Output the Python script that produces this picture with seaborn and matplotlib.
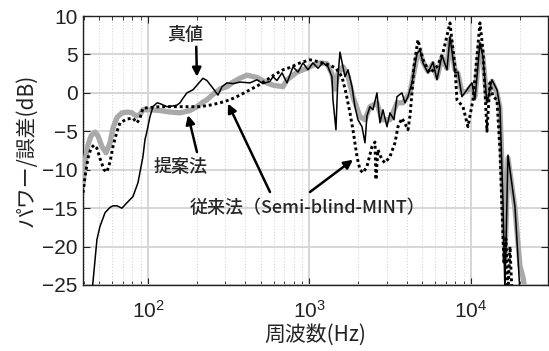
import numpy as np
import pandas as pd
import matplotlib
matplotlib.use("Agg")
import matplotlib.pyplot as plt
import seaborn as sns

# 真値 (true response)
true_freq = [45.0, 48.3, 50.4, 54.2, 58.2, 60.7, 64.3, 69.0, 74.1, 80.7, 86.7, 93.1,
             95.8, 98.6, 102.9, 107.4, 113.7, 118.7, 131.1, 142.8, 151.2, 157.8, 164.7,
             174.4, 190.0, 201.1, 219.1, 231.9, 252.6, 271.3, 287.2, 308.4, 336.0,
             371.2, 428.2, 473.1, 515.4, 569.5, 594.3, 629.4, 676, 726, 791, 849, 912,
             979, 1051, 1129, 1212, 1302, 1378, 1398, 1459, 1501, 1545, 1612, 1659,
             1732, 1834, 1913, 1997, 2114, 2207, 2270, 2369, 2473, 2618, 2732, 2852,
             3020, 3151, 3337, 3482, 3740, 3903, 4073, 4313, 4630, 4834, 5045, 5416,
             5818, 6159, 6613, 7102, 7413, 7961, 8309, 8796, 9446, 10143, 10587,
             11370, 11866, 12562, 13490, 14488, 15118, 15782, 16235, 16949, 18727,
             19543, 20109]
true_db = [-26, -19.1, -17.4, -15.6, -14.9, -14.7, -14.7, -15.0, -14.3, -13.5, -11.7, -8.3,
           -6.1, -5.0, -3.1, -1.8, -1.3, -1.4, -1.8, -1.7, -1.6, -1.3, -0.7,
           0.0, 0.4, 1.0, 1.9, 1.6, 0.6, -0.3, 0.8, 1.3, 1.2,
           1.4, 1.3, 1.7, 1.2, 1.5, 2.1, 1.6, 2.6, 1.3, 3.4, 2.7, 3.9,
           3.0, 3.9, 3.2, 3.9, 3.4, 2.1, -0.9, -4.8, 2.1, 5.3, 3.4, 2.1,
           3.0, 0.8, -1.8, -3.5, -4.4, -6.5, -3.0, -1.8, -2.2, 0.0, -3.9, -2.2,
           -4.4, -2.6, -3.5, -0.5, 0.0, -1.3, -0.5, 1.3, 5.1, 5.6, 3.9, 2.6,
           4.0, 1.7, 4.9, 3.0, 7.3, 2.6, 2.7, -0.5, 0.4, 1.3, -0.9,
           6.5, 4.7, -1.3, 1.7, 0.4, -1.8, -14.0, -26.0, -8.1, -14.8,
           -21.3, -26.0]

# 提案法 (proposed method)
prop_freq = [39.6, 40.7, 42.5, 44.4, 47.0, 49.0, 51.9, 55.0, 58.2, 60.7, 64.3, 69.0,
             75.2, 79.6, 84.3, 89.2, 93.1, 102.9, 118.7, 136.8, 157.8, 182.0, 201.1,
             219.1, 231.9, 252.6, 279.1, 308.4, 336.0, 371.2, 410.2, 473.1, 545.6,
             594.3, 685.6, 725.9, 837.1, 964.9, 1051, 1161, 1283, 1378, 1438, 1501,
             1612, 1732, 1859, 2055, 2207, 2369, 2618, 2811, 3151, 3482, 3793, 4192,
             4630, 4834, 5045, 5416, 5818, 6159, 6613, 7102, 7413, 7961, 8309, 8796,
             9446, 10143, 10587, 11370, 11866, 12562, 13490, 14488, 15118, 15782,
             16235, 16949, 18727, 20109, 20989, 21601]
prop_db = [-12.0, -9.0, -6.8, -5.6, -5.1, -5.6, -7.0, -7.8, -6.5, -4.6, -3.2, -2.6,
           -2.5, -2.6, -3.0, -2.8, -2.2, -2.2, -2.3, -2.5, -2.6, -2.3, -1.8,
           -1.2, -0.9, -0.2, 0.5, 0.8, 1.4, 1.9, 2.3, 2.0, 1.3,
           1.0, 0.8, 1.7, 2.7, 3.2, 3.6, 3.9, 3.8, 2.5, 0.5, 2.5,
           3.4, 2.2, -0.5, -3.1, -3.5, -1.8, -1.3, -3.5, -3.5, -1.3, -1.3, 0.0,
           4.7, 5.4, 4.0, 2.8, 3.8, 2.0, 4.6, 3.2, 7.0, 3.0, 2.5, 0.0,
           0.2, 1.0, -0.5, 6.3, 4.5, -1.0, 1.5, 0.0, -2.0, -13.0,
           -22.0, -8.5, -15.0, -22.5, -24.0, -25.5]

# 従来法 (Semi-blind-MINT)
conv_freq = [39.6, 40.7, 42.5, 44.4, 46.3, 48.3, 50.4, 53.4, 55.7, 58.2, 60.7, 64.3,
             67.1, 74.1, 80.7, 85.5, 89.2, 93.1, 102.9, 118.7, 146.9, 182.0, 209.9,
             242.0, 279.1, 322.0, 371.2, 428.2, 493.8, 545.6, 611.6, 685.6, 757.6,
             873.7, 1007, 1161, 1340, 1459, 1589, 1683, 1782, 1859, 1969, 2055, 2145,
             2270, 2438, 2545, 2581, 2655, 2811, 2934, 3151, 3385, 3532, 3740, 3903,
             4073, 4192, 4313, 4437, 4697, 5045, 5573, 6159, 6709, 7413, 7961, 8190,
             8924, 9581, 10290, 11370, 11866, 12562, 13113, 13685, 14488, 15118,
             15560, 16006, 16470, 16949, 17440, 17945]
conv_db = [-13.0, -11.0, -8.5, -7.2, -6.8, -7.2, -8.5, -10.0, -10.3, -9.0, -7.0, -5.0,
           -3.9, -3.4, -3.3, -3.9, -3.3, -2.0, -1.9, -1.8, -1.8, -1.8, -1.8,
           -1.6, -1.3, -0.9, -0.3, 0.4, 1.1, 1.7, 2.4, 3.0, 3.3,
           3.9, 4.3, 4.0, 3.6, 3.2, 2.1, 0.0, -2.6, -4.8, -8.3, -10.0, -10.4,
           -9.6, -7.0, -6.4, -11.3, -7.4, -8.7, -9.1, -8.3, -6.5, -4.4, -3.3, -4.0,
           -4.8, -3.0, 0.0, 3.5, 6.9, 4.3, 2.6, 3.4, 5.2, 9.1, 3.4, -0.9,
           -1.8, -4.4, -0.9, 9.1, 5.6, -5.0, 1.3, -0.5, -0.9, -7.4,
           -15.0, -22.0, -19.0, -26.0, -20.0, -26.0]

y_ticks = [10, 5, 0, -5, -10, -15, -20, -25]

sns.set_theme(style="ticks")
plt.rcParams["font.family"] = ["Liberation Sans", "Noto Sans CJK JP", "DejaVu Sans"]
plt.rcParams["axes.unicode_minus"] = True
plt.rcParams["mathtext.fontset"] = "custom"
plt.rcParams["mathtext.rm"] = "Liberation Sans"
plt.rcParams["mathtext.it"] = "Liberation Sans:italic"
plt.rcParams["mathtext.bf"] = "Liberation Sans:bold"
JP = ["Noto Sans CJK JP", "DejaVu Sans"]

fig = plt.figure(figsize=(5.49, 3.51), dpi=100)
ax = fig.add_axes([83 / 549, 1 - 285 / 351, 465 / 549, 269 / 351])

df_prop = pd.DataFrame({"f": prop_freq, "db": prop_db})
df_conv = pd.DataFrame({"f": conv_freq, "db": conv_db})
df_true = pd.DataFrame({"f": true_freq, "db": true_db})

sns.lineplot(data=df_prop, x="f", y="db", ax=ax, color="#a9a9a9", linewidth=3.8,
             estimator=None, sort=False, zorder=3)
sns.lineplot(data=df_conv, x="f", y="db", ax=ax, color="black", linewidth=2.1,
             linestyle=(0, (1, 1.0)), estimator=None, sort=False, zorder=4)
sns.lineplot(data=df_true, x="f", y="db", ax=ax, color="black", linewidth=1.1,
             estimator=None, sort=False, zorder=5)

ax.set_xscale("log")
ax.set_xlim(39.6, 30000)
ax.set_ylim(-25, 10)
ax.set_yticks(y_ticks)

ax.grid(which="major", color="#d6d6d6", linewidth=1.4, linestyle="-", zorder=0)
ax.grid(which="minor", axis="x", color="#cccccc", linewidth=0.7, linestyle=(0, (1, 2)), zorder=0)
ax.set_axisbelow(True)

ax.tick_params(which="both", direction="in", top=True, right=True, colors="#222222",
               labelsize=15, labelcolor="#222222")
ax.tick_params(which="major", length=5, width=0.8)
ax.tick_params(which="minor", length=3, width=0.6)
ax.tick_params(axis="x", which="major", pad=11)
ax.tick_params(axis="y", which="major", pad=4)
for s in ax.spines.values():
    s.set_color("#222222")
    s.set_linewidth(1.0)

ax.set_xlabel("周波数(Hz)", family=JP, fontsize=15, color="#222222", labelpad=1)
ax.set_ylabel("パワー/誤差(dB)", family=JP, fontsize=15, color="#222222", labelpad=3)

arrow = dict(arrowstyle="-|>", color="black", lw=1.8, mutation_scale=13, shrinkA=0, shrinkB=0)

ax.text(169.5, 7.5, "真値", family=JP, fontsize=13, weight="medium", ha="center", va="center")
ax.annotate("", xy=(201, 2.1), xytext=(199, 6.0), arrowprops=arrow)

ax.text(160, -9.6, "提案法", family=JP, fontsize=13, weight="medium", ha="center", va="center")
ax.annotate("", xy=(177, -2.9), xytext=(201, -7.7), arrowprops=arrow)

ax.text(979, -15.0, "従来法（Semi-blind-MINT）", family=JP, fontsize=13, weight="medium",
        ha="center", va="center")
ax.annotate("", xy=(313, -1.4), xytext=(569.5, -12.9), arrowprops=arrow)
ax.annotate("", xy=(1859, -8.7), xytext=(1007, -12.9), arrowprops=arrow)

fig.savefig("out.png", dpi=100)
